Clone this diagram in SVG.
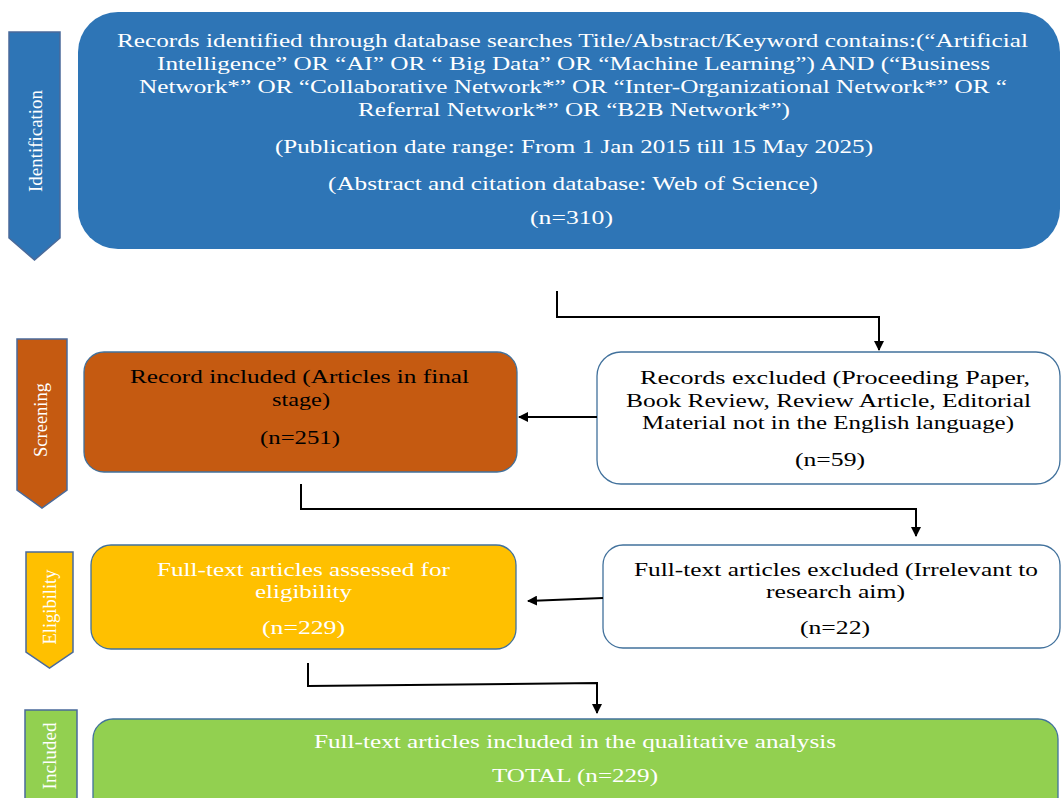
<svg xmlns="http://www.w3.org/2000/svg" width="1062" height="798" viewBox="0 0 1062 798">
<style>
.t{font-family:"Liberation Serif","Times New Roman",serif;font-size:19px}
.w{fill:#ffffff}
.k{fill:#000000}
.side{font-family:"Liberation Serif","Times New Roman",serif;font-size:18px;fill:#ffffff;text-anchor:middle}
.tag{stroke:#4A6A9A;stroke-width:1.5}
.box{stroke:#41719C;stroke-width:1.3}
.con{fill:none;stroke:#000;stroke-width:2}
</style>
<defs>
<marker id="ah" viewBox="0 0 10 10" refX="9" refY="5" markerWidth="5" markerHeight="5" orient="auto" markerUnits="strokeWidth">
<path d="M0,0 L10,5 L0,10 z" fill="#000"/>
</marker>
</defs>
<rect width="1062" height="798" fill="#ffffff"/>

<g id="tag-identification">
<path class="tag" d="M9,32 H60 V238 L34.5,260 L9,238 Z" fill="#2E75B6"/>
<text class="side" transform="translate(42,141) rotate(-90)" textLength="102" lengthAdjust="spacingAndGlyphs">Identification</text>
</g>
<g id="tag-screening">
<path class="tag" d="M17,339 H67 V490 L42,508 L17,490 Z" fill="#C55A11"/>
<text class="side" transform="translate(47,420) rotate(-90)" textLength="74" lengthAdjust="spacingAndGlyphs">Screening</text>
</g>
<g id="tag-eligibility">
<path class="tag" d="M26,552 H73 V652 L49.5,668 L26,652 Z" fill="#FFC000"/>
<text class="side" transform="translate(56,607) rotate(-90)" textLength="75" lengthAdjust="spacingAndGlyphs">Eligibility</text>
</g>
<g id="tag-included">
<path class="tag" d="M25,710 H77 V800 H25 Z" fill="#92D050"/>
<text class="side" transform="translate(56,756) rotate(-90)" textLength="67" lengthAdjust="spacingAndGlyphs">Included</text>
</g>

<g id="identified">
<rect x="78" y="12" width="982" height="237" rx="40" ry="40" fill="#2E75B6"/>
<text class="t w" x="117" y="47" textLength="911" lengthAdjust="spacingAndGlyphs">Records identified through database searches Title/Abstract/Keyword contains:(“Artificial</text>
<text class="t w" x="157" y="70" textLength="833" lengthAdjust="spacingAndGlyphs">Intelligence” OR “AI” OR “ Big Data” OR “Machine Learning”) AND (“Business</text>
<text class="t w" x="139" y="93" textLength="868" lengthAdjust="spacingAndGlyphs">Network*” OR “Collaborative Network*” OR “Inter-Organizational Network*” OR “</text>
<text class="t w" x="358" y="116" textLength="432" lengthAdjust="spacingAndGlyphs">Referral Network*” OR “B2B Network*”)</text>
<text class="t w" x="275" y="153" textLength="598" lengthAdjust="spacingAndGlyphs">(Publication date range: From 1 Jan 2015 till 15 May 2025)</text>
<text class="t w" x="328" y="190" textLength="490" lengthAdjust="spacingAndGlyphs">(Abstract and citation database: Web of Science)</text>
<text class="t w" x="530" y="224" textLength="83" lengthAdjust="spacingAndGlyphs">(n=310)</text>
</g>

<g id="screen-included">
<rect class="box" x="84" y="352" width="433" height="120" rx="20" ry="20" fill="#C55A11"/>
<text class="t k" x="130" y="383" textLength="339" lengthAdjust="spacingAndGlyphs">Record included (Articles in final</text>
<text class="t k" x="272" y="406" textLength="58" lengthAdjust="spacingAndGlyphs">stage)</text>
<text class="t k" x="260" y="444" textLength="80" lengthAdjust="spacingAndGlyphs">(n=251)</text>
</g>

<g id="screen-excluded">
<rect class="box" x="597" y="352" width="463" height="132" rx="24" ry="24" fill="#ffffff"/>
<text class="t k" x="640" y="384" textLength="390" lengthAdjust="spacingAndGlyphs">Records excluded (Proceeding Paper,</text>
<text class="t k" x="626" y="407" textLength="405" lengthAdjust="spacingAndGlyphs">Book Review, Review Article, Editorial</text>
<text class="t k" x="642" y="429" textLength="372" lengthAdjust="spacingAndGlyphs">Material not in the English language)</text>
<text class="t k" x="795" y="466" textLength="70" lengthAdjust="spacingAndGlyphs">(n=59)</text>
</g>

<g id="elig-assessed">
<rect class="box" x="91" y="545" width="425" height="104" rx="20" ry="20" fill="#FFC000"/>
<text class="t w" x="157" y="576" textLength="293" lengthAdjust="spacingAndGlyphs">Full-text articles assessed for</text>
<text class="t w" x="255" y="598" textLength="97" lengthAdjust="spacingAndGlyphs">eligibility</text>
<text class="t w" x="262" y="634" textLength="83" lengthAdjust="spacingAndGlyphs">(n=229)</text>
</g>

<g id="elig-excluded">
<rect class="box" x="603" y="545" width="457" height="103" rx="20" ry="20" fill="#ffffff"/>
<text class="t k" x="634" y="576" textLength="404" lengthAdjust="spacingAndGlyphs">Full-text articles excluded (Irrelevant to</text>
<text class="t k" x="766" y="598" textLength="139" lengthAdjust="spacingAndGlyphs">research aim)</text>
<text class="t k" x="800" y="634" textLength="70" lengthAdjust="spacingAndGlyphs">(n=22)</text>
</g>

<g id="included">
<rect class="box" x="93" y="719" width="965" height="100" rx="20" ry="20" fill="#92D050"/>
<text class="t w" x="314" y="748" textLength="522" lengthAdjust="spacingAndGlyphs">Full-text articles included in the qualitative analysis</text>
<text class="t w" x="492" y="782" textLength="166" lengthAdjust="spacingAndGlyphs">TOTAL (n=229)</text>
</g>

<g id="connectors">
<path class="con" d="M557,291 V317 H879 V350" marker-end="url(#ah)"/>
<path class="con" d="M597,417 H519" marker-end="url(#ah)"/>
<path class="con" d="M301,484 V509 H916 V536" marker-end="url(#ah)"/>
<path class="con" d="M603,598 L528,601" marker-end="url(#ah)"/>
<path class="con" d="M308,663 V686 L597,683 V713" marker-end="url(#ah)"/>
</g>
</svg>
